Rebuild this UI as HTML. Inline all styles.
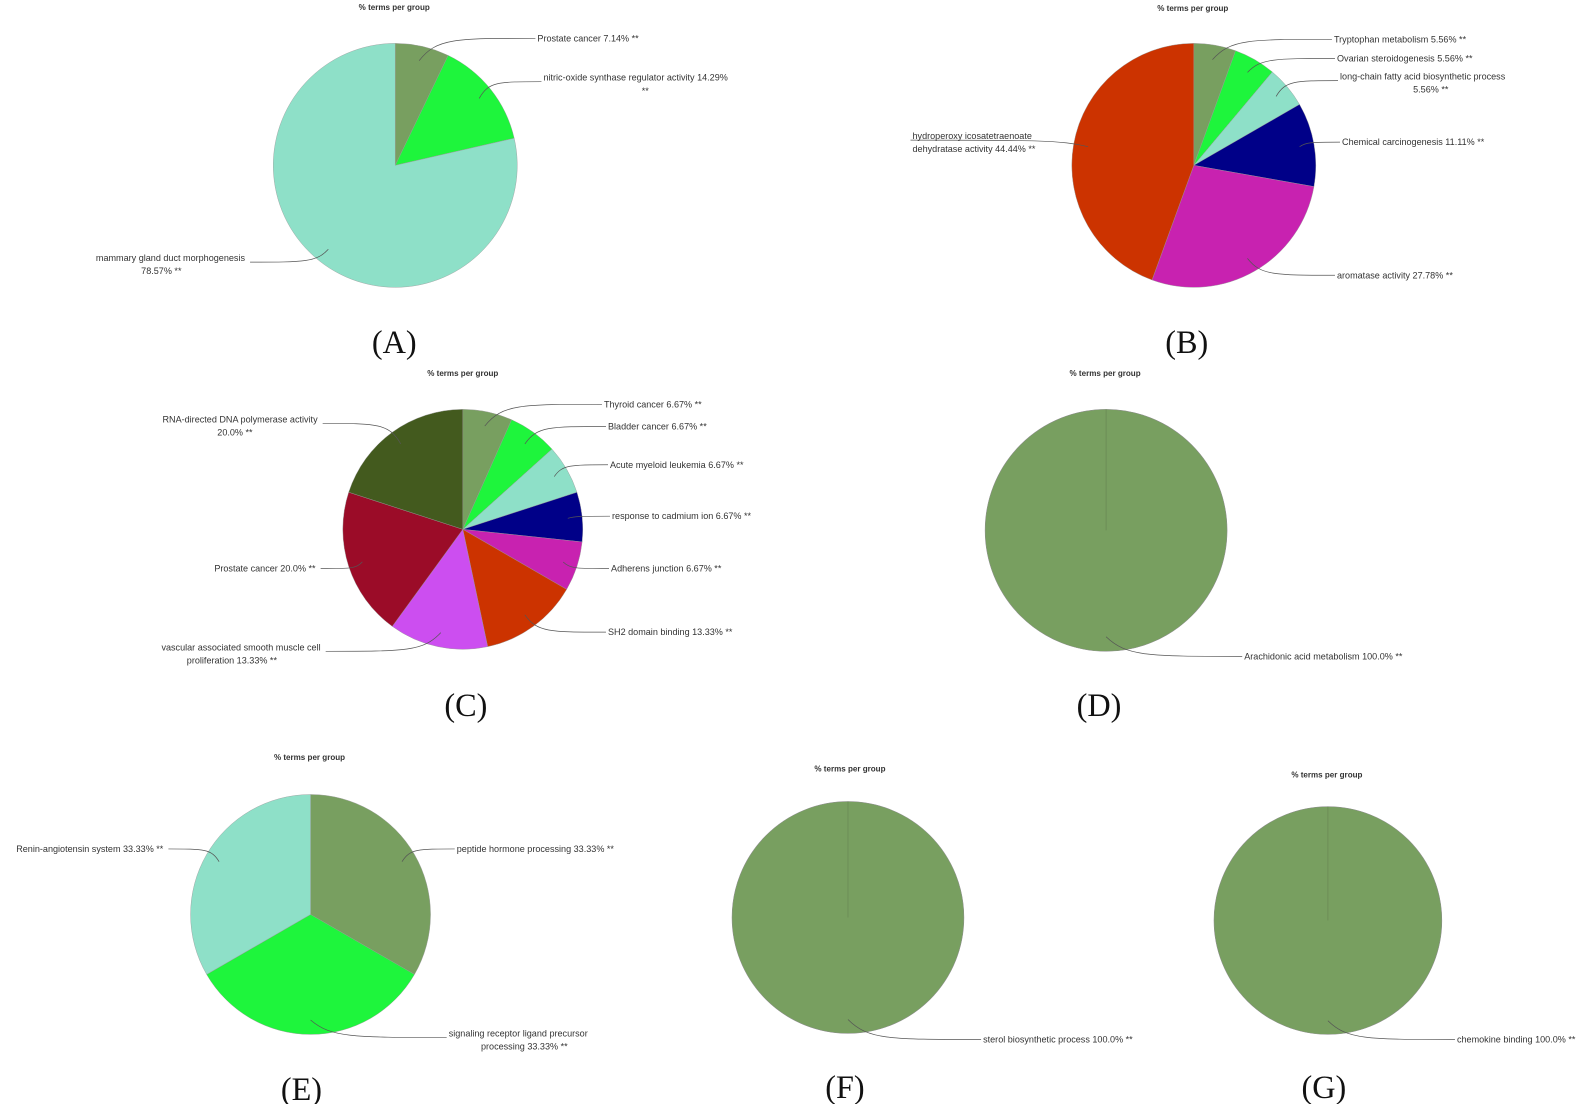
<!DOCTYPE html>
<html><head><meta charset="utf-8"><style>
html,body{margin:0;padding:0;background:#fff;}
svg{display:block;}
.lbl{font-family:"Liberation Sans",sans-serif;font-size:9px;fill:#333;}
.ttl{font-family:"Liberation Sans",sans-serif;font-size:8px;font-weight:bold;fill:#333;}
.pl{font-family:"Liberation Serif",serif;font-size:32px;fill:#111;}
</style></head><body>
<svg id="fig" width="1581" height="1104" viewBox="0 0 1568 1095" preserveAspectRatio="none" xmlns="http://www.w3.org/2000/svg"></svg>
<script>
// Panel data (values in %)
const valuesA = [7.14, 14.29, 78.57];
const namesA = ["Prostate cancer 7.14% **", "nitric-oxide synthase regulator activity 14.29%|**", "mammary gland duct morphogenesis|78.57% **"];
const valuesB = [5.56, 5.56, 5.56, 11.11, 27.78, 44.44];
const namesB = ["Tryptophan metabolism 5.56% **", "Ovarian steroidogenesis 5.56% **", "long-chain fatty acid biosynthetic process|5.56% **", "Chemical carcinogenesis 11.11% **", "aromatase activity 27.78% **", "hydroperoxy icosatetraenoate|dehydratase activity 44.44% **"];
const valuesC = [6.67, 6.67, 6.67, 6.67, 6.67, 13.33, 13.33, 20.0, 20.0];
const namesC = ["Thyroid cancer 6.67% **", "Bladder cancer 6.67% **", "Acute myeloid leukemia 6.67% **", "response to cadmium ion 6.67% **", "Adherens junction 6.67% **", "SH2 domain binding 13.33% **", "vascular associated smooth muscle cell|proliferation 13.33% **", "Prostate cancer 20.0% **", "RNA-directed DNA polymerase activity|20.0% **"];
const valuesD = [100.0];
const namesD = ["Arachidonic acid metabolism 100.0% **"];
const valuesE = [33.33, 33.33, 33.33];
const namesE = ["peptide hormone processing 33.33% **", "signaling receptor ligand precursor|processing 33.33% **", "Renin-angiotensin system 33.33% **"];
const valuesF = [100.0];
const namesF = ["sterol biosynthetic process 100.0% **"];
const valuesG = [100.0];
const namesG = ["chemokine binding 100.0% **"];

const palette = ["#789f60","#1ef53c","#8ee0c8","#000088","#c822b0","#cc3300","#cc4ef0","#9b0c28","#435a1e"];
const paletteB = ["#789f60","#1ef53c","#8ee0c8","#000088","#c822b0","#cc3300"];

// layout (not data)
const panels = [
 {id:"a", vals:valuesA, names:namesA, cols:palette, cx:392, cy:164, r:121, title:[391,7], letter:["(A)",391,350],
  labels:[[533,41,"start"],[539,80,"start",640],[243,259,"end",160]]},
 {id:"b", vals:valuesB, names:namesB, cols:paletteB, cx:1184, cy:164, r:121, title:[1183,8], letter:["(B)",1177,350],
  labels:[[1323,42,"start"],[1326,61,"start"],[1329,79,"start",1419],[1331,144,"start"],[1326,276,"start"],[905,138,"start",null,1040]]},
 {id:"c", vals:valuesC, names:namesC, cols:palette, cx:459, cy:525, r:119, title:[459,370], letter:["(C)",462,710],
  labels:[[599,404,"start"],[603,426,"start"],[605,464,"start"],[607,515,"start"],[606,567,"start"],[603,630,"start"],[318,645,"end",230],[313,567,"end"],[315,419,"end",233]]},
 {id:"d", vals:valuesD, names:namesD, cols:palette, cx:1097, cy:526, r:120, title:[1096,370], letter:["(D)",1090,710],
  labels:[[1234,654,"start"]]},
 {id:"e", vals:valuesE, names:namesE, cols:palette, cx:308, cy:907, r:119, title:[307,751], letter:["(E)",299,1091],
  labels:[[453,845,"start"],[445,1028,"start",520],[162,845,"end"]]},
 {id:"f", vals:valuesF, names:namesF, cols:palette, cx:841, cy:910, r:115, title:[843,762], letter:["(F)",838,1089],
  labels:[[975,1034,"start"]]},
 {id:"g", vals:valuesG, names:namesG, cols:palette, cx:1317, cy:913, r:113, title:[1316,768], letter:["(G)",1313,1089],
  labels:[[1445,1034,"start"]]}
];

const NS = "http://www.w3.org/2000/svg";
const svg = document.getElementById("fig");
function mk(tag, attrs, parent){const e=document.createElementNS(NS,tag);for(const k in attrs)e.setAttribute(k,attrs[k]);(parent||svg).appendChild(e);return e;}
function angleScale(v,total){return v/total*2*Math.PI;}
function pt(cx,cy,r,a){return [cx+r*Math.sin(a), cy-r*Math.cos(a)];}

panels.forEach(p=>{
  const g = mk("g",{});
  
  
  const t = mk("text",{x:p.title[0],y:p.title[1]+3,"text-anchor":"middle",class:"ttl"},g);
  t.textContent = "% terms per group";
  
  
  const total = p.vals.reduce((a,b)=>a+b,0);
  let a0 = 0;
  p.vals.forEach((v,i)=>{
    const da = angleScale(v,total);
    const a1 = a0+da;
    let el;
    if (v/total >= 0.9999){
      el = mk("circle",{cx:p.cx,cy:p.cy,r:p.r,fill:p.cols[i%p.cols.length],stroke:"#8a8a8a","stroke-width":0.5},g);
      mk("line",{x1:p.cx,y1:p.cy,x2:p.cx,y2:p.cy-p.r,stroke:"#6a8a55","stroke-width":0.8},g);
    } else {
      const s = pt(p.cx,p.cy,p.r,a0), e = pt(p.cx,p.cy,p.r,a1);
      el = mk("path",{d:`M${p.cx},${p.cy} L${s[0]},${s[1]} A${p.r},${p.r} 0 ${da>Math.PI?1:0} 1 ${e[0]},${e[1]} Z`,fill:p.cols[i%p.cols.length],stroke:"#999","stroke-width":0.4},g);
    }
    
    
    // label
    const L = p.labels[i];
    const am = (a0+a1)/2;
    const sp = pt(p.cx,p.cy,p.r*0.88,am);
    const lines = p.names[i].split("|");
    const ex = L[5]!==undefined ? L[5] : (L[2]==="end" ? L[0]+5 : L[0]-2);
    const ey = L[1]-3 + (lines.length>1 ? 4 : 0);
    const lead = mk("path",{d:`M${sp[0]},${sp[1]} C${sp[0]+(ex-sp[0])*0.15},${ey} ${sp[0]+(ex-sp[0])*0.3},${ey} ${ex},${ey}`,fill:"none",stroke:"#555","stroke-width":0.7},g);
    
    
    const tx = mk("text",{x:L[0],y:L[1],"text-anchor":L[2],class:"lbl"},g);
    tx.textContent = lines[0];
    
    
    if (lines.length>1){
      const anchor2 = L[3] ? "middle" : L[2];
      const x2 = L[3] ? L[3] : L[0];
      const tx2 = mk("text",{x:x2,y:L[1]+13,"text-anchor":anchor2,class:"lbl"},g);
      tx2.textContent = lines[1];
      
      
    }
    a0 = a1;
  });
  const lt = mk("text",{x:p.letter[1],y:p.letter[2],"text-anchor":"middle",class:"pl"},g);
  lt.textContent = p.letter[0];
  
  
});
</script>
</body></html>
